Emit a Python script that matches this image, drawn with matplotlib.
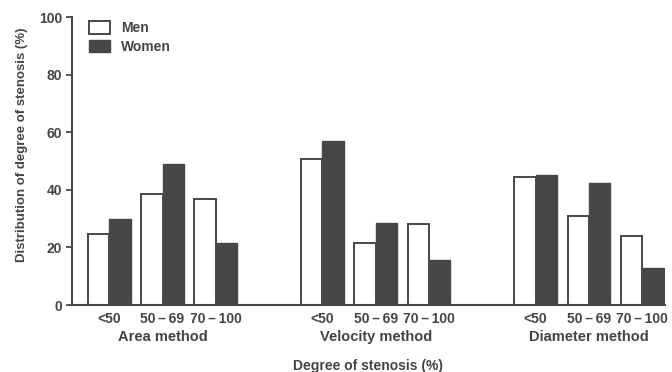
import matplotlib.pyplot as plt
import numpy as np

plt.rcParams['font.family'] = ['Liberation Sans', 'DejaVu Sans']
plt.rcParams['font.weight'] = 'bold'
plt.rcParams['axes.labelweight'] = 'bold'

# Data
methods = ['Area method', 'Velocity method', 'Diameter method']
grades = ['<50', '50\u2009\u2013\u200969', '70\u2009\u2013\u2009100']
men = [24.7, 38.7, 36.7,    # area
       50.8, 21.4, 28.2,    # velocity
       44.6, 31.0, 24.0]    # diameter
women = [29.9, 49.0, 21.6,
         57.1, 28.4, 15.5,
         45.2, 42.3, 13.0]

ink = '#474747'
txt = '#444444'
width = 0.4

# pair positions: three per method, with a gap between methods
pos = np.array([g * 4 + i for g in range(len(methods)) for i in range(len(grades))], dtype=float)

fig = plt.figure(figsize=(6.72, 3.72), dpi=100)
ax = fig.add_axes([0.107, 0.180, 0.882, 0.774])

ax.bar(pos - width / 2, men, width, color='white', edgecolor=ink, linewidth=1.4, label='Men')
ax.bar(pos + width / 2, women, width, color=ink, edgecolor=ink, linewidth=1.0, label='Women')

ax.set_xlim(-0.70, 10.42)
ax.set_ylim(0, 100)
ax.set_yticks([0, 20, 40, 60, 80, 100])
ax.set_xticks(pos)
ax.set_xticklabels(grades * len(methods))

for s in ['top', 'right']:
    ax.spines[s].set_visible(False)
for s in ['left', 'bottom']:
    ax.spines[s].set_color(ink)
    ax.spines[s].set_linewidth(1.5)

ax.tick_params(axis='y', length=4, width=1.3, color=ink, labelsize=10, labelcolor=txt, pad=3)
ax.tick_params(axis='x', length=0, labelsize=10, labelcolor=txt, pad=5)

# method names under each group of three
for g, name in enumerate(methods):
    ax.text(g * 4 + 1, -11, name, ha='center', va='center', fontsize=10.5,
            color=txt, clip_on=False)

ax.set_xlabel('Degree of stenosis (%)', fontsize=10, color=txt, labelpad=24)
ax.set_ylabel('Distribution of degree of stenosis (%)', fontsize=9.5, color=txt)
ax.yaxis.set_label_coords(-0.074, 0.556)

ax.legend(loc='upper left', bbox_to_anchor=(0.012, 1.02), frameon=False, fontsize=10,
          handlelength=1.5, handleheight=1.0, labelspacing=0.35, handletextpad=0.8,
          borderaxespad=0.3, labelcolor=txt)

fig.savefig('out.png', dpi=100)
